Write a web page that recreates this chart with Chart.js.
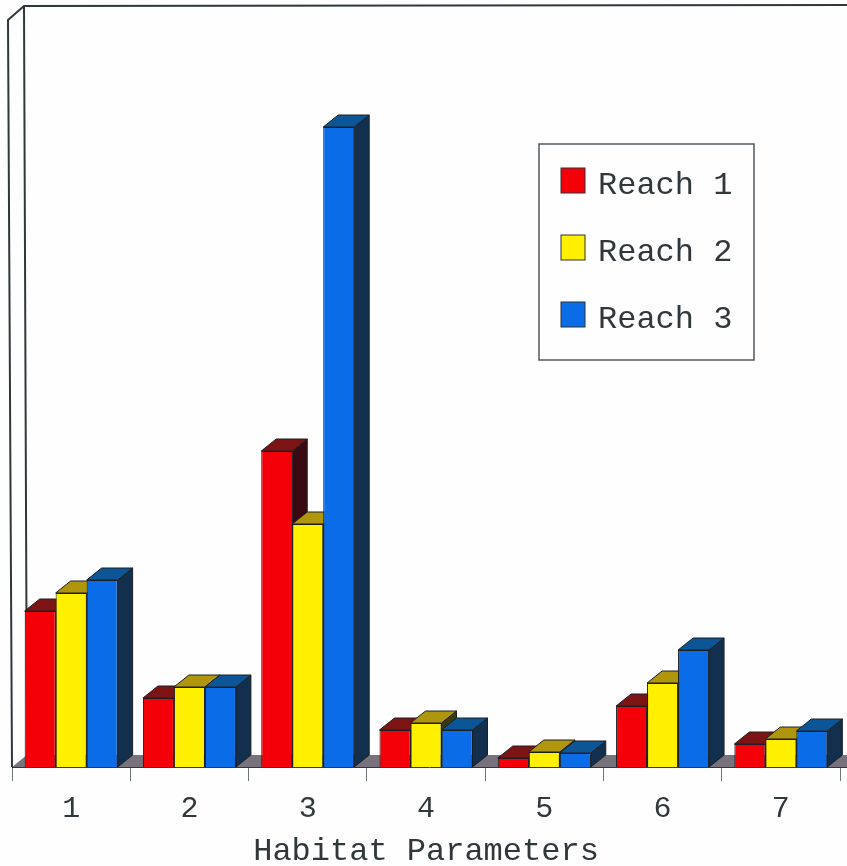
<!DOCTYPE html>
<html>
<head>
<meta charset="utf-8">
<title>Habitat Parameters</title>
<script src="https://cdn.jsdelivr.net/npm/chart.js@4/dist/chart.umd.min.js"></script>
<style>
  html, body { margin: 0; padding: 0; background: #fefefe; }
  #wrap { width: 847px; height: 866px; overflow: hidden; }
  canvas { display: block; filter: blur(0.5px); }
</style>
</head>
<body>
<div id="wrap"><canvas id="chartCanvas" width="847" height="866"></canvas></div>
<script>
// ── Data (no y axis printed, so units are arbitrary) ──
var categories = ['1', '2', '3', '4', '5', '6', '7'];
var reach1 = [156, 69, 316, 37, 9, 61, 23];
var reach2 = [174, 80, 243, 44, 15, 84, 28];
var reach3 = [187, 80, 640, 37, 14, 117, 36];
var seriesNames = ['Reach 1', 'Reach 2', 'Reach 3'];
var axisTitle = 'Habitat Parameters';
var yMax = 747;

var frontColors = ['#f40008', '#fff000', '#0a6ce6'];
var topColors = ['#7c1414', '#b0960c', '#0c5596'];
var sideColors = ['#3a0a12', '#3a3a10', '#12304e'];
var INK = '#30383c';
var FONT = '"Liberation Mono", monospace';
var DEPTH_X = 15;
var DEPTH_Y = 12;

// ── Back wall and floor, drawn behind the bars ──
var wallPlugin = {
  id: 'wall',
  beforeDatasetsDraw: function (chart) {
    var ctx = chart.ctx;
    var a = chart.chartArea;
    ctx.save();
    ctx.fillStyle = '#78727c';
    ctx.beginPath();
    ctx.moveTo(a.left, a.bottom);
    ctx.lineTo(a.left + DEPTH_X, a.bottom - DEPTH_Y);
    ctx.lineTo(847, a.bottom - DEPTH_Y);
    ctx.lineTo(847, a.bottom);
    ctx.closePath();
    ctx.fill();

    ctx.strokeStyle = INK;
    ctx.lineWidth = 2;
    ctx.beginPath();
    ctx.moveTo(a.left, a.bottom);
    ctx.lineTo(a.left - 4, a.top);
    ctx.lineTo(a.left + 12, a.top - DEPTH_Y - 2);
    ctx.lineTo(847, a.top - DEPTH_Y - 3);
    ctx.moveTo(a.left + DEPTH_X, a.bottom - DEPTH_Y);
    ctx.lineTo(a.left + 12, a.top - DEPTH_Y - 2);
    ctx.stroke();

    ctx.lineWidth = 1;
    ctx.beginPath();
    ctx.moveTo(a.left, a.bottom + 0.5);
    ctx.lineTo(847, a.bottom + 0.5);
    ctx.stroke();
    ctx.restore();
  }
};

// ── Bars: left to right so each bar covers the side of the one before ──
var barsPlugin = {
  id: 'bars3d',
  beforeDatasetDraw: function () {
    return false;
  },
  afterDatasetsDraw: function (chart) {
    var ctx = chart.ctx;
    chart.data.datasets.forEach(function (ds, d) {
      chart.getDatasetMeta(d).data.forEach(function (bar) {
        var l = bar.x - bar.width / 2;
        var r = bar.x + bar.width / 2;
        ctx.save();
        ctx.lineWidth = 1;
        ctx.strokeStyle = '#1c2024';
        ctx.fillStyle = sideColors[d];
        ctx.beginPath();
        ctx.moveTo(r, bar.y);
        ctx.lineTo(r + DEPTH_X, bar.y - DEPTH_Y);
        ctx.lineTo(r + DEPTH_X, bar.base - DEPTH_Y);
        ctx.lineTo(r, bar.base);
        ctx.closePath();
        ctx.fill();
        ctx.stroke();
        ctx.fillStyle = topColors[d];
        ctx.beginPath();
        ctx.moveTo(l, bar.y);
        ctx.lineTo(l + DEPTH_X, bar.y - DEPTH_Y);
        ctx.lineTo(r + DEPTH_X, bar.y - DEPTH_Y);
        ctx.lineTo(r, bar.y);
        ctx.closePath();
        ctx.fill();
        ctx.stroke();
        ctx.restore();
        bar.draw(ctx);
      });
    });
    drawLegend(chart);
  }
};

// ── Legend box sits inside the plot, so it is drawn here ──
function drawLegend(chart) {
  var ctx = chart.ctx;
  ctx.save();
  ctx.fillStyle = '#fefefe';
  ctx.strokeStyle = '#50585c';
  ctx.lineWidth = 1.5;
  ctx.fillRect(539, 144, 215, 216);
  ctx.strokeRect(539, 144, 215, 216);
  ctx.font = '32px ' + FONT;
  ctx.textBaseline = 'middle';
  chart.data.datasets.forEach(function (ds, d) {
    var y = 168 + d * 67;
    ctx.fillStyle = ds.backgroundColor;
    ctx.strokeStyle = '#2c3034';
    ctx.lineWidth = 1;
    ctx.fillRect(561, y, 24, 25);
    ctx.strokeRect(561, y, 24, 25);
    ctx.fillStyle = INK;
    ctx.fillText(ds.label, 598, y + 18);
  });
  ctx.restore();
}

var seriesValues = [reach1, reach2, reach3];

new Chart(document.getElementById('chartCanvas').getContext('2d'), {
  type: 'bar',
  data: {
    labels: categories,
    datasets: seriesNames.map(function (name, i) {
      return {
        label: name,
        data: seriesValues[i],
        backgroundColor: frontColors[i],
        borderColor: '#1c2024',
        borderWidth: 1,
        barPercentage: 1,
        categoryPercentage: 0.786
      };
    })
  },
  plugins: [wallPlugin, barsPlugin],
  options: {
    responsive: false,
    animation: false,
    layout: { padding: { top: 20, left: 12, right: 7, bottom: 0 } },
    plugins: { legend: { display: false }, tooltip: { enabled: false } },
    scales: {
      x: {
        // fixed axis height keeps the baseline where the picture has it
        afterFit: function (scale) { scale.height = 99; },
        grid: { drawOnChartArea: false, drawTicks: true, tickLength: 14, color: '#70777a' },
        border: { display: false },
        ticks: { color: INK, font: { family: FONT, size: 30, lineHeight: 1 }, padding: 13, maxRotation: 0 },
        title: { display: true, text: axisTitle, color: INK, font: { family: FONT, size: 32, lineHeight: 1 }, padding: { top: 0, bottom: -2 } }
      },
      y: { display: false, min: 0, max: yMax }
    }
  }
});
</script>
</body>
</html>
